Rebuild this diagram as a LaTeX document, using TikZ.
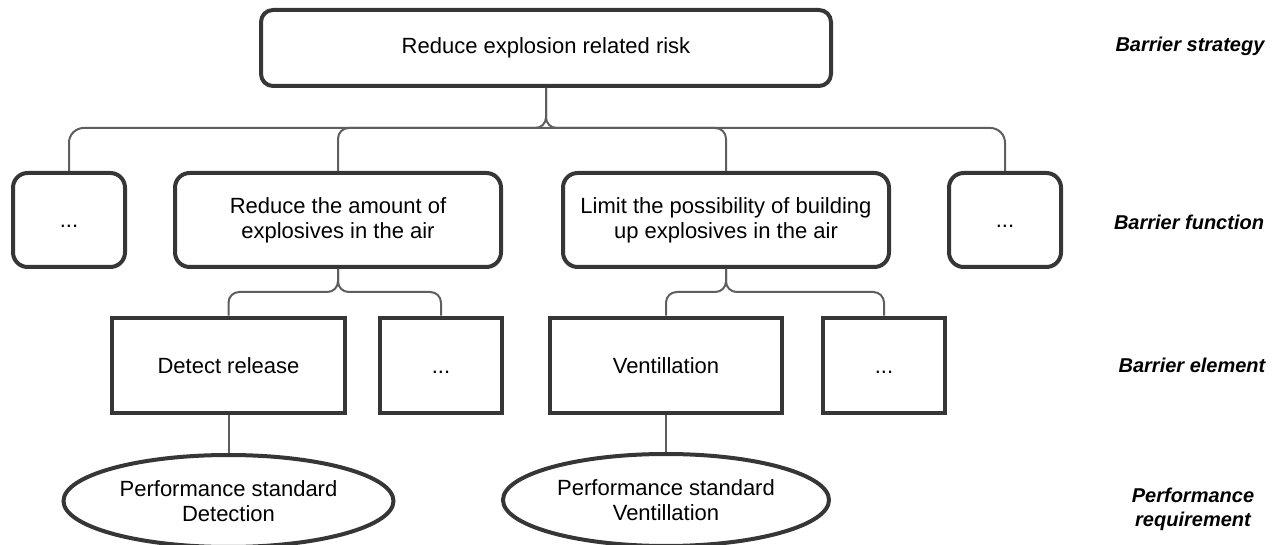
\documentclass[tikz,border=0pt]{standalone}
\usepackage{fontspec}
\setmainfont{Liberation Sans}
\usetikzlibrary{shapes.geometric}
\definecolor{edge}{HTML}{363636}
\definecolor{wirecol}{HTML}{5E5E5E}
\newcommand{\moredots}{\vphantom{D}...}
\begin{document}
\begin{tikzpicture}[x=0.75pt,y=-0.75pt,
  every node/.style={font=\fontsize{16.5}{18.75}\selectfont, align=center, inner sep=0pt},
  roundbox/.style={draw=edge, line width=3pt, rounded corners=11pt, minimum height=70.5pt},
  sqbox/.style={draw=edge, line width=3.4pt, minimum height=71.25pt},
  oval/.style={ellipse, draw=edge, line width=3pt, minimum width=247.5pt, minimum height=69pt},
  wire/.style={draw=wirecol, line width=1.5pt, rounded corners=8pt},
  level/.style={font=\fontsize{15}{18}\selectfont\bfseries\itshape}
]
\useasboundingbox (0,0) rectangle (1279,545);

% strategy
\node[roundbox, rounded corners=9pt, minimum width=427.5pt, minimum height=57pt] (top) at (546,48) {Reduce explosion related risk};

% functions
\node[roundbox, minimum width=84pt]    (b1) at (69,220)  {\moredots};
\node[roundbox, minimum width=244.5pt] (b2) at (338,220) {Reduce the amount of\\explosives in the air};
\node[roundbox, minimum width=244.5pt] (b3) at (726,220) {Limit the possibility of building\\up explosives in the air};
\node[roundbox, minimum width=84pt]    (b4) at (1005,220) {\moredots};

% elements
\node[sqbox, minimum width=174.75pt] (e1) at (228.5,365.5) {Detect release};
\node[sqbox, minimum width=91.5pt]   (e2) at (441,365.5)   {\moredots};
\node[sqbox, minimum width=174pt]    (e3) at (666,365.5)   {Ventillation};
\node[sqbox, minimum width=91.5pt]   (e4) at (884,365.5)   {\moredots};

% performance standards
\node[oval] (p1) at (228.5,501) {Performance standard\\Detection};
\node[oval, minimum width=244.5pt] (p2) at (666,500) {Performance standard\\Ventillation};

% connectors
\coordinate (busA) at (546,128);
\coordinate (busB) at (338,292);
\coordinate (busC) at (726,292);
\draw[wire, rounded corners=11pt] (b1.north) -- (b1.north |- busA) -- (b4.north |- busA) -- (b4.north);
\draw[wire] (top.south) -- (busA) -- (b2.north |- busA) -- (b2.north);
\draw[wire] (top.south) -- (busA) -- (b3.north |- busA) -- (b3.north);
\draw[wire] (b2.south) -- (busB) -- (e1.north |- busB) -- (e1.north);
\draw[wire] (b2.south) -- (busB) -- (e2.north |- busB) -- (e2.north);
\draw[wire] (b3.south) -- (busC) -- (e3.north |- busC) -- (e3.north);
\draw[wire] (b3.south) -- (busC) -- (e4.north |- busC) -- (e4.north);
\draw[wire] (e1.south) -- (p1.north);
\draw[wire] (e3.south) -- (p2.north);

% level labels
\node[level] (l1) at (1190,46)  {Barrier strategy};
\node[level] (l2) at (1189,222) {Barrier function};
\node[level] (l3) at (1192,365) {Barrier element};
\node[level] (l4) at (1193,509) {Performance\\requirement};
\end{tikzpicture}
\end{document}
